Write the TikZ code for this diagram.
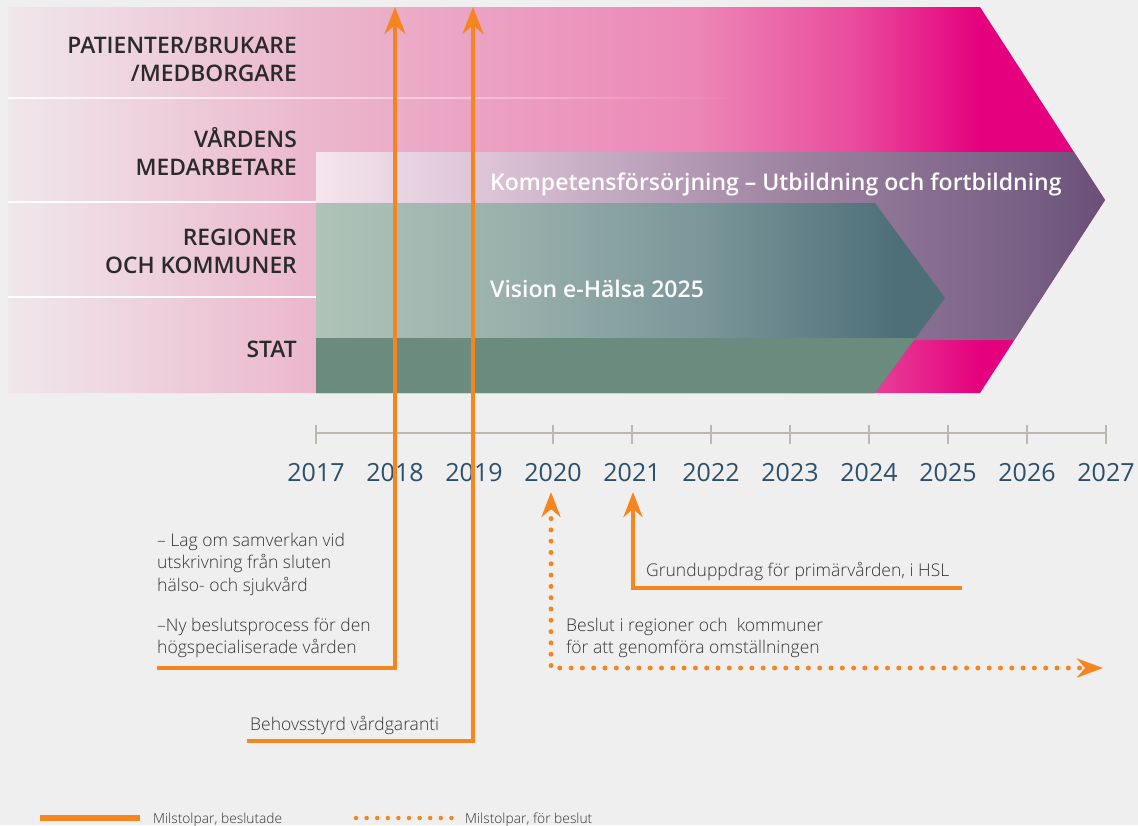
\documentclass[tikz,border=0pt]{standalone}
\usepackage{fontspec}
\setmainfont{Open Sans}
\IfFontExistsTF{Open Sans Light}{\newfontfamily\lightf{Open Sans Light}}{\newfontfamily\lightf{Open Sans}}
\IfFontExistsTF{Open Sans Semibold}{\newfontfamily\semif{Open Sans Semibold}}{\IfFontExistsTF{Open Sans SemiBold}{\newfontfamily\semif{Open Sans SemiBold}}{\newcommand\semif{\bfseries}}}
\usetikzlibrary{arrows.meta,fadings}
\definecolor{bg}{HTML}{EFEFEF}
\definecolor{pk0}{HTML}{F0E7EB}
\definecolor{pk1}{HTML}{EBB7CC}
\definecolor{pk2}{HTML}{EC86B6}
\definecolor{pk3}{HTML}{E94C9D}
\definecolor{pk4}{HTML}{E5007D}
\definecolor{pu0}{HTML}{F5E5ED}
\definecolor{pu1}{HTML}{DCC3D6}
\definecolor{pu2}{HTML}{9C81A0}
\definecolor{pu3}{HTML}{7C6488}
\definecolor{pu4}{HTML}{6A5079}
\definecolor{te0}{HTML}{AFC3B8}
\definecolor{te1}{HTML}{9BB1AC}
\definecolor{te2}{HTML}{7B979A}
\definecolor{te3}{HTML}{4E6E78}
\definecolor{stat}{HTML}{6B8B7F}
\definecolor{ora}{HTML}{F5861F}
\definecolor{axisc}{HTML}{BDB8AE}
\definecolor{yearc}{HTML}{2C4F6B}
\definecolor{txt}{HTML}{2A2A2A}
\definecolor{txtl}{HTML}{333333}
\pgfdeclarehorizontalshading{pinkgrad}{100bp}{color(0bp)=(pk0); color(25bp)=(pk0); color(39bp)=(pk1); color(56.5bp)=(pk2); color(63.5bp)=(pk3); color(69.3bp)=(pk4); color(100bp)=(pk4)}
\pgfdeclarehorizontalshading{purpgrad}{100bp}{color(0bp)=(pu0); color(25bp)=(pu0); color(36bp)=(pu1); color(55.7bp)=(pu2); color(68.3bp)=(pu3); color(75bp)=(pu4); color(100bp)=(pu4)}
\pgfdeclarehorizontalshading{tealgrad}{100bp}{color(0bp)=(te0); color(25bp)=(te0); color(39.6bp)=(te1); color(55.5bp)=(te2); color(71.4bp)=(te3); color(100bp)=(te3)}
\tikzset{
  lab/.style={font=\semif\fontsize{22.8}{28}\selectfont, text=txt, anchor=base east, inner sep=0pt},
  year/.style={font=\fontsize{25}{30}\selectfont, text=yearc, anchor=base, inner sep=0pt},
  note/.style={font=\lightf\fontsize{17.5}{22.5}\selectfont, text=txtl, anchor=base west, inner sep=0pt},
  band/.style={font=\semif\fontsize{23}{26}\selectfont, text=white, anchor=base west, inner sep=0pt},
  legend/.style={font=\lightf\fontsize{13.8}{17}\selectfont, text=txtl, anchor=base west, inner sep=0pt},
  ms/.style={draw=ora, line width=4.5pt},
  solidarr/.style={ms, -{Stealth[length=27pt,width=21pt,inset=9pt]}},
  solidarrs/.style={ms, -{Stealth[length=25pt,width=19pt,inset=8pt]}},
  dotline/.style={draw=ora, line width=5pt, line cap=round, dash pattern=on 0pt off 11.3pt},
  dotarr/.style={dotline, {Stealth[length=25pt,width=19pt,inset=8pt]}-{Stealth[length=26pt,width=19pt,inset=8pt]}},
  tick/.style={draw=axisc, line width=1.5pt}
}
\begin{document}
\begin{tikzpicture}[x=1pt,y=-1pt]
\fill[bg] (0,0) rectangle (1138,825);
\useasboundingbox (0,0) rectangle (1138,825);
% pink chevron
\shade[shading=pinkgrad] (8,7) -- (980,7) -- (1105,200) -- (980,393) -- (8,393) -- cycle;
% purple band
\shade[shading=purpgrad] (316,152) -- (1074,152) -- (1105,200) -- (1014.3,340) -- (316,340) -- cycle;
% teal chevron
\shade[shading=tealgrad] (316,203) -- (875,203) -- (945,298) -- (875,393) -- (316,393) -- cycle;
% stat band
\fill[stat] (316,338) -- (915.5,338) -- (875,393) -- (316,393) -- cycle;
% separators
\fill[white, opacity=0.9, path fading=east] (8,97) rectangle (740,99);
\draw[white, line width=2pt] (8,202) -- (316,202);
\draw[white, line width=2pt] (8,297) -- (316,297);
% row labels
\node[lab] (l1a) at (297,53) {PATIENTER/BRUKARE};
\node[lab] (l1b) at (297,81) {/MEDBORGARE};
\node[lab] (l2a) at (297,147) {VÅRDENS};
\node[lab] (l2b) at (297,175) {MEDARBETARE};
\node[lab] (l3a) at (297,245) {REGIONER};
\node[lab] (l3b) at (297,273) {OCH KOMMUNER};
\node[lab] (l4) at (297,357) {STAT};
% band texts
\node[band] (komp) at (490,190) {Kompetensförsörjning – Utbildning och fortbildning};
\node[band] (vis) at (490,297) {Vision e-Hälsa 2025};
% axis
\coordinate (ax0) at (316,433);
\coordinate (ax1) at (1106,433);
\draw[draw=axisc, line width=2pt] (ax0) -- (ax1);
\foreach \i/\yr in {0/2017,1/2018,2/2019,3/2020,4/2021,5/2022,6/2023,7/2024,8/2025,9/2026,10/2027}{
  \draw[tick] (316+79*\i,425) -- (316+79*\i,444);
  \node[year] (y\yr) at (316+79*\i,481) {\yr};
}
% milestone arrows
\coordinate (a1top) at (395,7);
\coordinate (a1end) at (157,668);
\coordinate (a2top) at (473,7);
\coordinate (a2end) at (247,741);
\coordinate (a3top) at (633,492);
\coordinate (a3end) at (962,588);
\coordinate (a4top) at (551,492);
\coordinate (a4corner) at (551,668);
\coordinate (a4end) at (1103,668);
\draw[solidarr, line join=miter] (a1end) -| (a1top);
\draw[solidarr, line join=miter] (a2end) -| (a2top);
\draw[solidarrs, line join=miter] (a3end) -| (a3top);
\draw[dotarr] (a4top) -- (a4corner) -- (a4end);
% notes
\node[note] (n1) at (157,546) {– Lag om samverkan vid};
\node[note] (n2) at (157,568.5) {utskrivning från sluten};
\node[note] (n3) at (157,591) {hälso- och sjukvård};
\node[note] (n4) at (157,631) {–Ny beslutsprocess för den};
\node[note] (n5) at (157,653.5) {högspecialiserade vården};
\node[note] (n6) at (250,730) {Behovsstyrd vårdgaranti};
\node[note] (n7) at (646,576) {Grunduppdrag för primärvården, i HSL};
\node[note] (n8) at (566,631) {Beslut i regioner och\ \ kommuner};
\node[note] (n9) at (566,653.5) {för att genomföra omställningen};
% legend
\coordinate (lg1a) at (40,818);
\coordinate (lg1b) at (140,818);
\coordinate (lg2a) at (356,818);
\coordinate (lg2b) at (452,818);
\draw[ms, line width=6pt] (lg1a) -- (lg1b);
\draw[dotline, line width=4.5pt, dash pattern=on 0pt off 10.6pt] (lg2a) -- (lg2b);
\node[legend] (lt1) at (153,823) {Milstolpar, beslutade};
\node[legend] (lt2) at (465,823) {Milstolpar, för beslut};
\end{tikzpicture}
\end{document}
